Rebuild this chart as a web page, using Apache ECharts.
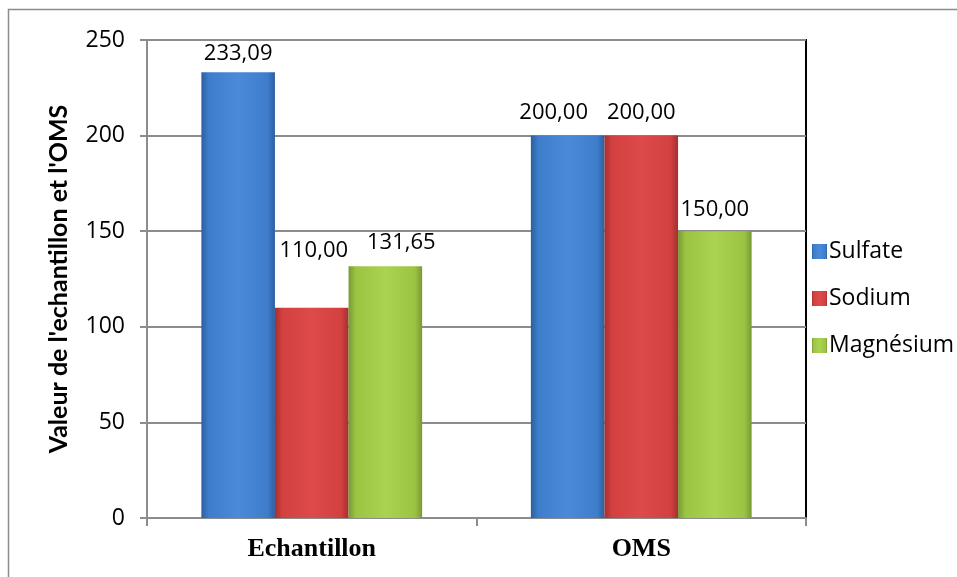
<!DOCTYPE html>
<html>
<head>
<meta charset="utf-8">
<script src="https://cdn.jsdelivr.net/npm/echarts@6/dist/echarts.min.js"></script>
<style>
  html, body { margin: 0; padding: 0; background: #fff; }
  #main { width: 957px; height: 577px; }
</style>
</head>
<body>
<div id="main"></div>
<script>
var categories = ['Echantillon', 'OMS'];
var sulfate = [233.09, 200.00];
var sodium = [110.00, 200.00];
var magnesium = [131.65, 150.00];
var yTicks = [0, 50, 100, 150, 200, 250];

// label nudges (px) as placed in the original chart, per series / category
var sulfateLabelOffset = [[0, 0], [-14, -4]];
var sodiumLabelOffset = [[2, -38], [0, -4]];
var magnesiumLabelOffset = [[16, -5], [0, -2]];

// bevel-ish look: lighter middle, darker edges
function bevel(light, mid, dark) {
    return new echarts.graphic.LinearGradient(0, 0, 1, 0, [
        {offset: 0, color: dark},
        {offset: 0.1, color: mid},
        {offset: 0.5, color: light},
        {offset: 0.9, color: mid},
        {offset: 1, color: dark}
    ]);
}

function fmt(p) {
    return p.value.toFixed(2).replace('.', ',');
}

function withOffsets(values, offsets) {
    return values.map(function (v, i) {
        return {value: v, label: {offset: offsets[i]}};
    });
}

var labelStyle = {
    show: true,
    position: 'top',
    distance: 8,
    formatter: fmt,
    fontFamily: 'Open Sans',
    fontSize: 22,
    color: '#000'
};

var myChart = echarts.init(document.getElementById('main'));

var option = {
    animation: false,
    graphic: [{
        type: 'rect',
        shape: {x: 8.5, y: 9.5, width: 970, height: 600},
        style: {fill: 'none', stroke: '#8c8c8c', lineWidth: 1.5},
        silent: true
    }],
    grid: {
        left: 147, top: 40, right: 151, bottom: 59,
        show: true,
        borderColor: '#000',
        borderWidth: 2
    },
    legend: {
        orient: 'vertical',
        left: 807,
        top: 235,
        itemWidth: 15,
        itemHeight: 15,
        itemGap: 24,
        icon: 'rect',
        textStyle: {fontFamily: 'Open Sans', fontSize: 23, color: '#000', padding: [0, 0, 0, -3]},
        data: ['Sulfate', 'Sodium', 'Magnésium']
    },
    xAxis: {
        type: 'category',
        data: categories,
        axisLine: {lineStyle: {color: '#8c8c8c', width: 2}},
        axisTick: {show: true, length: 8, lineStyle: {color: '#8c8c8c', width: 2}},
        axisLabel: {
            margin: 18,
            fontFamily: 'Liberation Serif',
            fontWeight: 'bold',
            fontSize: 26,
            color: '#000'
        }
    },
    yAxis: {
        type: 'value',
        min: yTicks[0],
        max: yTicks[yTicks.length - 1],
        interval: 50,
        name: "Valeur de l'echantillon et l'OMS",
        nameLocation: 'middle',
        nameGap: 76,
        nameTextStyle: {fontFamily: 'Lato', fontWeight: 'bold', fontSize: 25, color: '#000'},
        axisLine: {show: true, lineStyle: {color: '#8c8c8c', width: 2}},
        axisTick: {show: true, length: 7, lineStyle: {color: '#8c8c8c', width: 2}},
        splitLine: {lineStyle: {color: '#8c8c8c', width: 2}},
        axisLabel: {margin: 22, fontFamily: 'Open Sans', fontSize: 23, color: '#000'}
    },
    series: [
        {
            name: 'Sulfate', type: 'bar', data: withOffsets(sulfate, sulfateLabelOffset),
            barGap: '0%', barCategoryGap: '33%',
            itemStyle: {color: bevel('#4a8ad8', '#3d7dcc', '#2d5f9f')},
            label: labelStyle
        },
        {
            name: 'Sodium', type: 'bar', data: withOffsets(sodium, sodiumLabelOffset),
            itemStyle: {color: bevel('#de4a4a', '#d24040', '#a43030')},
            label: labelStyle
        },
        {
            name: 'Magnésium', type: 'bar', data: withOffsets(magnesium, magnesiumLabelOffset),
            itemStyle: {color: bevel('#aad352', '#9cc443', '#789a34')},
            label: labelStyle
        }
    ]
};

myChart.setOption(option);
</script>
</body>
</html>
